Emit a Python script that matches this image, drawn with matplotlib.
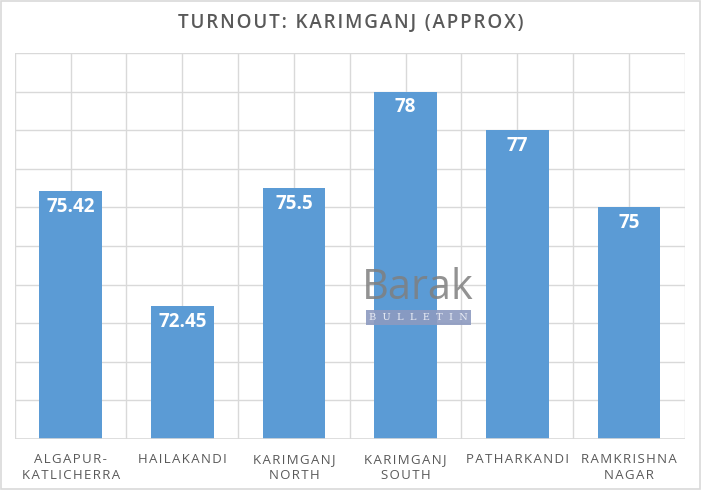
import matplotlib.pyplot as plt
import numpy as np
from matplotlib.patches import Rectangle

# data
categories = ["ALGAPUR-\nKATLICHERRA", "HAILAKANDI", "KARIMGANJ\nNORTH",
              "KARIMGANJ\nSOUTH", "PATHARKANDI", "RAMKRISHNA\nNAGAR"]
turnout = [75.42, 72.45, 75.5, 78, 77, 75]
value_labels = ["75.42", "72.45", "75.5", "78", "77", "75"]

plt.rcParams['font.family'] = ['Open Sans', 'DejaVu Sans']


def spaced(t, gap='\u200a'):
    # fake letter spacing with hair spaces
    return "\n".join(gap.join(line) for line in t.split("\n"))


fig = plt.figure(figsize=(7.01, 4.90), dpi=100)
ax = fig.add_axes([0.021, 0.104, 0.956, 0.788])

x = np.arange(len(categories))
ax.bar(x, turnout, width=0.56, color='#5B9BD5', zorder=3)

ax.set_ylim(69, 79)
ax.set_xlim(-0.5, len(categories) - 0.5)
ax.set_yticks(np.arange(69, 80, 1))
ax.set_xticks(np.arange(-0.5, len(categories), 0.5))
ax.grid(True, color='#d9d9d9', linewidth=1, zorder=0)
ax.tick_params(left=False, bottom=False, labelleft=False, labelbottom=False)
for s in ax.spines.values():
    s.set_visible(False)
ax.axhline(69, color='#d9d9d9', linewidth=1.2, zorder=4)

for xi, v, lab in zip(x, turnout, value_labels):
    ax.text(xi, v - 0.15, lab, ha='center', va='top', color='white',
            fontsize=13.5, fontweight='bold', zorder=5)

for xi, c in zip(x, categories):
    ax.text(xi, -0.036, spaced(c), transform=ax.get_xaxis_transform(),
            ha='center', va='top', fontsize=9.5, color='#595959',
            fontweight='medium', linespacing=1.3)

fig.text(0.5, 0.953, spaced("TURNOUT: KARIMGANJ (APPROX)"),
         ha='center', va='center', fontsize=13.5, fontweight='semibold', color='#595959')

# watermark
fig.text(0.596, 0.412, "Barak", ha='center', va='center', fontsize=30,
         color='#7f7f7f', alpha=0.85, zorder=10)
fig.text(0.597, 0.352, "B  U  L  L  E  T  I  N", ha='center', va='center', fontsize=7,
         family='DejaVu Serif', color='#e8ecf5', zorder=11,
         bbox=dict(boxstyle='square,pad=0.3', fc='#8d9ac0', ec='none', alpha=0.9))

# outer border
fig.patches.append(Rectangle((0.002, 0.002), 0.996, 0.996, transform=fig.transFigure,
                             fill=False, ec='#d9d9d9', lw=1.2))

fig.savefig("out.png", dpi=100)
